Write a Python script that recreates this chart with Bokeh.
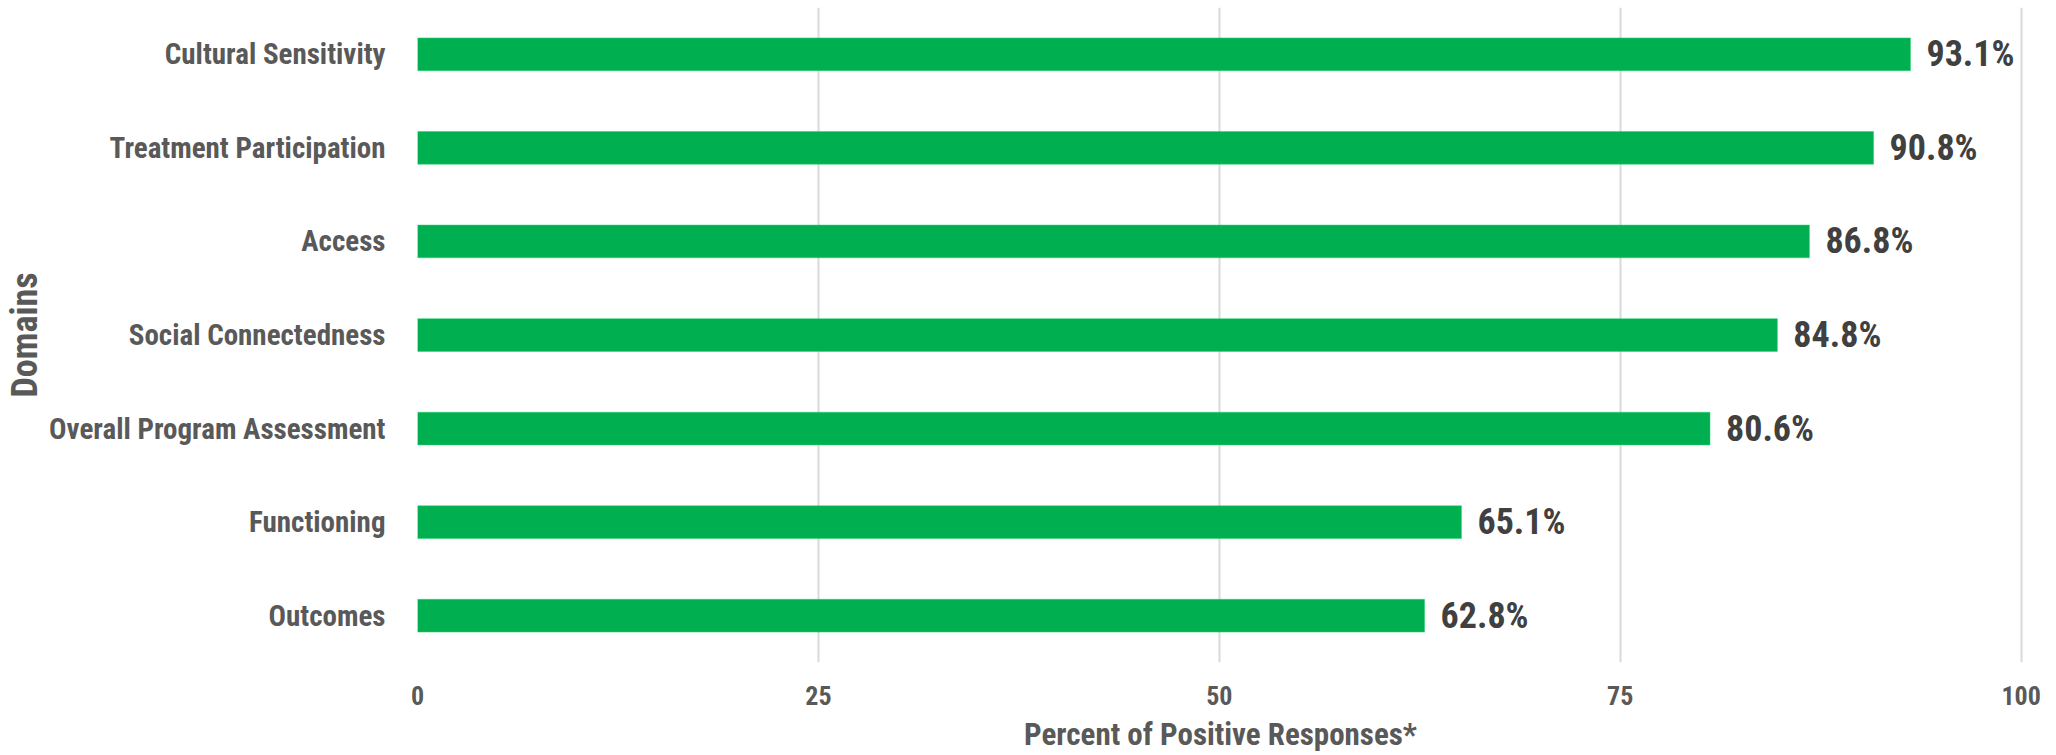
from bokeh.plotting import figure
from bokeh.models import FactorRange, Range1d, FixedTicker, ColumnDataSource
from bokeh.core.properties import value
from bokeh.embed import file_html
from bokeh.resources import INLINE

# Survey domains (top to bottom) and percent of positive responses
domains = [
    "Cultural Sensitivity",
    "Treatment Participation",
    "Access",
    "Social Connectedness",
    "Overall Program Assessment",
    "Functioning",
    "Outcomes",
]
percent_positive = [93.1, 90.8, 86.8, 84.8, 80.6, 65.1, 62.8]
x_ticks = [0, 25, 50, 75, 100]
x_title = "Percent of Positive Responses*"
y_title = "Domains"

FONT = "Roboto Condensed"
GREEN = "#00B050"
LABEL_GREY = "#595959"
VALUE_GREY = "#404040"

src = ColumnDataSource(dict(
    domain=domains,
    pct=percent_positive,
    label=[f"{v:.1f}%" for v in percent_positive],
))

p = figure(
    width=2056, height=755,
    y_range=FactorRange(*reversed(domains)),
    x_range=Range1d(0, 100.15),
    output_backend="svg", toolbar_location=None,
    min_border_left=417, min_border_right=33,
    min_border_top=7, min_border_bottom=93,
)
p.outline_line_color = None
p.background_fill_color = "white"
p.border_fill_color = "white"

p.hbar(y="domain", right="pct", left=0, height=0.35, source=src,
       fill_color=GREEN, line_color="#2bd070", line_width=1, line_alpha=0.5)

p.text(x="pct", y="domain", text="label", source=src,
       x_offset=16, text_align="left", text_baseline="middle",
       text_font=value(FONT), text_font_style="bold",
       text_font_size="36px", text_color=VALUE_GREY)

# x axis
p.xaxis.ticker = FixedTicker(ticks=x_ticks)
p.xaxis.axis_line_color = None
p.xaxis.major_tick_line_color = None
p.xaxis.minor_tick_line_color = None
p.xaxis.major_label_text_font = FONT
p.xaxis.major_label_text_font_style = "bold"
p.xaxis.major_label_text_font_size = "26px"
p.xaxis.major_label_text_color = LABEL_GREY
p.xaxis.major_label_standoff = 17
p.xaxis.axis_label = x_title
p.xaxis.axis_label_text_font = FONT
p.xaxis.axis_label_text_font_style = "bold"
p.xaxis.axis_label_text_font_size = "31px"
p.xaxis.axis_label_text_color = LABEL_GREY
p.xaxis.axis_label_standoff = 8

# y axis
p.yaxis.axis_line_color = None
p.yaxis.major_tick_line_color = None
p.yaxis.minor_tick_line_color = None
p.yaxis.major_label_text_font = FONT
p.yaxis.major_label_text_font_style = "bold"
p.yaxis.major_label_text_font_size = "29px"
p.yaxis.major_label_text_color = LABEL_GREY
p.yaxis.major_label_standoff = 26
p.yaxis.axis_label = y_title
p.yaxis.axis_label_text_font = FONT
p.yaxis.axis_label_text_font_style = "bold"
p.yaxis.axis_label_text_font_size = "36px"
p.yaxis.axis_label_text_color = LABEL_GREY
p.yaxis.axis_label_standoff = 0

# grid
p.ygrid.grid_line_color = None
p.xgrid.ticker = FixedTicker(ticks=x_ticks)
p.xgrid.grid_line_color = "#d9d9d9"
p.xgrid.grid_line_width = 2

open("out.html", "w").write(file_html(p, INLINE))
